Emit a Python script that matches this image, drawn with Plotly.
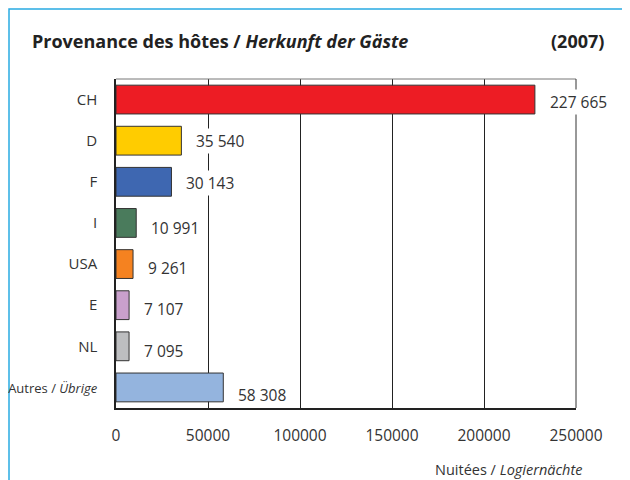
import plotly.graph_objects as go

categories = ["CH", "D", "F", "I", "USA", "E", "NL",
              "<span style='font-size:13px'>Autres / <i>Übrige</i></span>"]
values = [227665, 35540, 30143, 10991, 9261, 7107, 7095, 58308]
value_labels = ["227 665", "35 540", "30 143", "10 991", "9 261", "7 107", "7 095", "58 308"]
colors = ["#ED1C24", "#FFCC00", "#3E67B1", "#4A7B5C", "#F58220", "#C9A0CC", "#BDBEC0", "#94B4DE"]
label_dy = [-2, 0, -1, -5, -4, -4, -5, -8]
tick_vals = [0, 50000, 100000, 150000, 200000, 250000]

FONT = "Open Sans, Noto Sans, sans-serif"

fig = go.Figure()
fig.add_trace(go.Bar(
    y=categories, x=values, orientation="h",
    marker=dict(color=colors, line=dict(color="#333333", width=1)),
    width=0.7, showlegend=False, hoverinfo="skip",
))

annotations = []
for c, v, t, dy in zip(categories, values, value_labels, label_dy):
    annotations.append(dict(
        x=v, y=c, xref="x", yref="y", text=t, showarrow=False,
        xanchor="left", xshift=13, yshift=dy, bgcolor="white",
        font=dict(family=FONT, size=15.5, color="#333333"),
    ))

annotations += [
    dict(x=-0.187, y=1.115, xref="paper", yref="paper", text="<b>Provenance des hôtes / <i>Herkunft der Gäste</i></b>",
         showarrow=False, xanchor="left", yanchor="middle", font=dict(family=FONT, size=18, color="#222222")),
    dict(x=1.065, y=1.115, xref="paper", yref="paper", text="<b>(2007)</b>",
         showarrow=False, xanchor="right", yanchor="middle", font=dict(family=FONT, size=18, color="#222222")),
    dict(x=1.017, y=-0.188, xref="paper", yref="paper", text="Nuitées / <i>Logiernächte</i>",
         showarrow=False, xanchor="right", yanchor="middle", font=dict(family=FONT, size=14.5, color="#333333")),
]

fig.update_layout(
    width=622, height=472,
    margin=dict(l=108, r=54, t=71, b=72),
    paper_bgcolor="white", plot_bgcolor="white",
    annotations=annotations,
    bargap=0.3,
    shapes=[
        dict(type="rect", xref="paper", yref="paper", x0=-0.2326, x1=1.2, y0=-0.3, y1=1.2128,
             line=dict(color="#29ABE2", width=1.5), fillcolor="rgba(0,0,0,0)", layer="below"),
        dict(type="line", xref="paper", yref="paper", x0=0, x1=1, y0=1, y1=1,
             line=dict(color="#777777", width=1)),
        dict(type="line", xref="paper", yref="paper", x0=1, x1=1, y0=0, y1=1,
             line=dict(color="#333333", width=1)),
    ],
)

fig.update_xaxes(
    range=[0, 250000], tickvals=tick_vals, ticktext=[str(v) for v in tick_vals],
    showgrid=True, gridcolor="#222222", gridwidth=1,
    showline=True, linecolor="#222222", linewidth=1.5,
    zeroline=False, ticks="", ticklabelstandoff=13,
    tickfont=dict(family=FONT, size=15.5, color="#333333"),
    fixedrange=True, automargin=False,
)
fig.update_yaxes(
    autorange="reversed", showgrid=False,
    showline=True, linecolor="#222222", linewidth=1.5,
    ticks="", ticklabelstandoff=14,
    tickfont=dict(family=FONT, size=15, color="#333333"),
    fixedrange=True, automargin=False,
)

fig.write_html("out.html")
